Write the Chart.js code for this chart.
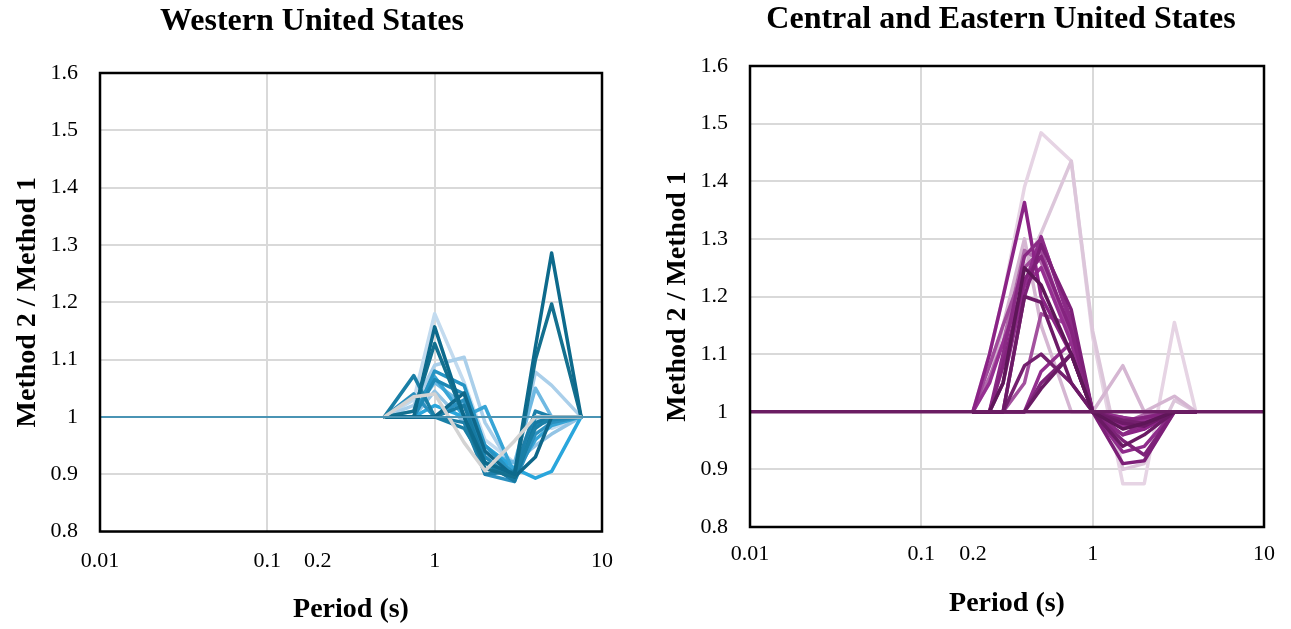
<!DOCTYPE html>
<html>
<head>
<meta charset="utf-8">
<title>Method 2 / Method 1 ratio</title>
<script src="https://cdn.jsdelivr.net/npm/chart.js@4.4.1/dist/chart.umd.min.js"></script>
<style>
    html, body {
        margin: 0;
        padding: 0;
        background: #ffffff;
        width: 1291px;
        height: 629px;
        overflow: hidden;
    }
    .panel {
        position: absolute;
        top: 0;
    }
    #wusPanel { left: 0; }
    #ceusPanel { left: 640px; }
</style>
</head>
<body>
<div class="panel" id="wusPanel"><canvas id="wusChart" width="624" height="629"></canvas></div>
<div class="panel" id="ceusPanel"><canvas id="ceusChart" width="722" height="629"></canvas></div>

<script>
(function() {
    'use strict';

    // Axis ticks
    const PERIOD_TICKS = [0.01, 0.1, 0.2, 1, 10];
    const RATIO_TICKS = [0.8, 0.9, 1, 1.1, 1.2, 1.3, 1.4, 1.5, 1.6];

    // Reference line at ratio 1
    const BASE_PERIODS = [0.01, 10];
    const BASE_RATIO = [1, 1];

    // Western United States: ratios at these periods (s)
    const WUS_PERIODS = [0.5, 0.75, 1, 1.5, 2, 3, 4, 5, 7.5];
    const wus01 = [1, 1.035, 1.040, 0.955, 0.906, 0.958, 1.000, 1.000, 1];
    const wus02 = [1, 1.000, 1.157, 1.000, 0.920, 0.900, 1.122, 1.286, 1];
    const wus03 = [1, 1.010, 1.128, 1.000, 0.910, 0.895, 1.100, 1.197, 1];
    const wus04 = [1, 1.000, 1.000, 1.042, 0.940, 0.895, 0.930, 1.000, 1];
    const wus05 = [1, 1.072, 1.000, 0.980, 0.920, 0.900, 0.980, 1.000, 1];
    const wus06 = [1, 1.000, 1.000, 1.020, 0.920, 0.888, 0.990, 1.000, 1];
    const wus07 = [1, 1.000, 1.000, 0.990, 0.900, 0.905, 1.010, 1.000, 1];
    const wus08 = [1, 1.000, 1.065, 1.040, 0.930, 0.890, 0.985, 0.995, 1];
    const wus09 = [1, 1.040, 1.000, 1.030, 0.900, 0.887, 0.970, 0.990, 1];
    const wus10 = [1, 1.000, 1.080, 1.055, 0.950, 0.900, 1.000, 1.000, 1];
    const wus11 = [1, 1.000, 1.070, 1.000, 1.018, 0.900, 0.960, 0.985, 1];
    const wus12 = [1, 1.000, 1.020, 1.000, 0.950, 0.910, 0.893, 0.905, 1];
    const wus13 = [1, 1.010, 1.060, 1.020, 0.940, 0.920, 1.050, 1.000, 1];
    const wus14 = [1, 1.000, 1.045, 0.990, 0.930, 0.920, 0.950, 0.970, 1];
    const wus15 = [1, 1.020, 1.090, 1.104, 0.990, 0.905, 1.078, 1.055, 1];
    const wus16 = [1, 1.030, 1.180, 1.060, 0.960, 0.920, 1.000, 0.980, 1];
    const WUS_SERIES = [wus01, wus02, wus03, wus04, wus05, wus06, wus07, wus08,
                        wus09, wus10, wus11, wus12, wus13, wus14, wus15, wus16];
    const WUS_COLORS = ['#d3d3d3', '#0d6a8c', '#14708f', '#0f6789', '#1a7fa6', '#177aa2',
                        '#1c7fa9', '#1e88b5', '#2b90bf', '#2694c4', '#38a5d6', '#2aa6dc',
                        '#6fb9e2', '#93c4e5', '#aacfea', '#c3dbef'];

    // Central and Eastern United States: ratios at these periods (s)
    const CEUS_PERIODS = [0.2, 0.25, 0.3, 0.4, 0.5, 0.75, 1, 1.5, 2, 3, 4];
    const ceus01 = [1, 1.00, 1.05, 1.25, 1.22, 1.10, 1, 0.970, 0.980, 1, 1];
    const ceus02 = [1, 1.00, 1.00, 1.20, 1.19, 1.05, 1, 0.980, 0.975, 1, 1];
    const ceus03 = [1, 1.00, 1.00, 1.00, 1.04, 1.10, 1, 0.940, 0.960, 1, 1];
    const ceus04 = [1, 1.00, 1.00, 1.08, 1.10, 1.05, 1, 0.985, 0.980, 1, 1];
    const ceus05 = [1, 1.00, 1.00, 1.20, 1.29, 1.177, 1, 0.910, 0.915, 1, 1];
    const ceus06 = [1, 1.00, 1.00, 1.00, 1.05, 1.10, 1, 0.950, 0.925, 1, 1];
    const ceus07 = [1, 1.00, 1.08, 1.23, 1.27, 1.14, 1, 0.985, 0.990, 1, 1];
    const ceus08 = [1, 1.00, 1.10, 1.27, 1.30, 1.16, 1, 0.960, 0.980, 1, 1];
    const ceus09 = [1, 1.10, 1.20, 1.363, 1.20, 1.10, 1, 0.960, 0.970, 1, 1];
    const ceus10 = [1, 1.00, 1.05, 1.22, 1.304, 1.15, 1, 0.930, 0.940, 1, 1];
    const ceus11 = [1, 1.00, 1.00, 1.00, 1.07, 1.12, 1, 0.990, 0.985, 1, 1];
    const ceus12 = [1, 1.05, 1.12, 1.22, 1.25, 1.12, 1, 0.975, 0.970, 1, 1];
    const ceus13 = [1, 1.08, 1.15, 1.25, 1.28, 1.13, 1, 0.975, 0.990, 1, 1];
    const ceus14 = [1, 1.00, 1.00, 1.05, 1.17, 1.15, 1, 0.990, 0.980, 1, 1];
    const ceus15 = [1, 1.06, 1.12, 1.28, 1.26, 1.13, 1, 0.980, 0.995, 1, 1];
    const ceus16 = [1, 1.05, 1.15, 1.30, 1.15, 1.00, 1, 1.080, 1.000, 1.027, 1];
    const ceus17 = [1, 1.00, 1.08, 1.25, 1.31, 1.435, 1.14, 0.900, 0.910, 1.020, 1];
    const ceus18 = [1, 1.10, 1.20, 1.39, 1.484, 1.435, 1.13, 0.875, 0.875, 1.155, 1];
    const CEUS_SERIES = [ceus01, ceus02, ceus03, ceus04, ceus05, ceus06, ceus07, ceus08, ceus09,
                         ceus10, ceus11, ceus12, ceus13, ceus14, ceus15, ceus16, ceus17, ceus18];
    const CEUS_COLORS = ['#5e1658', '#6d1a67', '#6a1a64', '#74206e', '#7d1f78', '#7e2379',
                         '#85237f', '#8a2a85', '#8b2386', '#8f2c8b', '#922e8d', '#962f91',
                         '#a04a9b', '#a3519e', '#b06aab', '#d5b6d2', '#dcc6da', '#e6d4e4'];

    const SERIF = "'Liberation Serif', 'Times New Roman', serif";
    const GRID = '#d9d9d9';

    // Black frame round the plot area
    const framePlugin = {
        id: 'frame',
        afterDraw(chart) {
            const a = chart.chartArea;
            const ctx = chart.ctx;
            ctx.save();
            ctx.strokeStyle = '#000000';
            ctx.lineWidth = 2.5;
            ctx.strokeRect(a.left, a.top, a.right - a.left, a.bottom - a.top);
            ctx.restore();
        }
    };

    function toPoints(periods, values) {
        return periods.map((p, i) => ({ x: p, y: values[i] }));
    }

    function buildChart(canvasId, opts) {
        const datasets = [{
            data: toPoints(BASE_PERIODS, BASE_RATIO),
            borderColor: opts.baseColor,
            borderWidth: opts.baseWidth
        }].concat(opts.series.map((values, i) => ({
            data: toPoints(opts.periods, values),
            borderColor: opts.colors[i],
            borderWidth: 3.5
        })));

        return new Chart(document.getElementById(canvasId), {
            type: 'line',
            data: { datasets: datasets },
            plugins: [framePlugin],
            options: {
                responsive: false,
                animation: false,
                devicePixelRatio: 1,
                layout: { padding: 0 },
                elements: {
                    point: { radius: 0, hoverRadius: 0 },
                    line: { tension: 0, fill: false, borderJoinStyle: 'round', borderCapStyle: 'round' }
                },
                plugins: {
                    legend: { display: false },
                    tooltip: { enabled: false },
                    title: {
                        display: true,
                        text: opts.title,
                        color: '#000000',
                        font: { family: SERIF, size: 32, weight: 'bold', lineHeight: 1.2 },
                        padding: opts.titlePadding
                    }
                },
                scales: {
                    x: {
                        type: 'logarithmic',
                        min: 0.01,
                        max: 10,
                        afterBuildTicks: function(scale) {
                            scale.ticks = PERIOD_TICKS.map(v => ({ value: v }));
                        },
                        afterFit: function(scale) {
                            scale.height = opts.xHeight;
                            scale.paddingLeft = 0;
                            scale.paddingRight = 0;
                        },
                        grid: {
                            drawTicks: false,
                            lineWidth: 2,
                            color: function(c) {
                                return c.tick && c.tick.value === 0.2 ? 'rgba(0,0,0,0)' : GRID;
                            }
                        },
                        border: { display: false },
                        ticks: {
                            color: '#000000',
                            padding: opts.xTickPadding,
                            maxRotation: 0,
                            autoSkip: false,
                            font: { family: SERIF, size: 22 },
                            callback: function(value) {
                                return String(value);
                            }
                        },
                        title: {
                            display: true,
                            text: 'Period (s)',
                            color: '#000000',
                            font: { family: SERIF, size: 28, weight: 'bold', lineHeight: 1.2 },
                            padding: { top: 0, bottom: opts.xTitlePadding }
                        }
                    },
                    y: {
                        min: 0.8,
                        max: 1.6,
                        afterBuildTicks: function(scale) {
                            scale.ticks = RATIO_TICKS.map(v => ({ value: v }));
                        },
                        afterFit: function(scale) {
                            scale.width = opts.yWidth;
                        },
                        grid: { drawTicks: false, lineWidth: 2, color: GRID },
                        border: { display: false },
                        ticks: {
                            color: '#000000',
                            padding: 22,
                            font: { family: SERIF, size: 22 },
                            callback: function(value) {
                                return String(value);
                            }
                        },
                        title: {
                            display: true,
                            text: 'Method 2 / Method 1',
                            color: '#000000',
                            font: { family: SERIF, size: 28, weight: 'bold', lineHeight: 1.2 },
                            padding: { top: opts.yTitlePadding, bottom: 0 }
                        }
                    },
                    spacer: {
                        position: 'right',
                        display: true,
                        grid: { display: false },
                        border: { display: false },
                        ticks: { display: false },
                        afterFit: function(scale) {
                            scale.width = opts.rightSpace;
                        }
                    }
                }
            }
        });
    }

    buildChart('wusChart', {
        title: 'Western United States',
        titlePadding: { top: 3, bottom: 31.6 },
        periods: WUS_PERIODS,
        series: WUS_SERIES,
        colors: WUS_COLORS,
        baseColor: '#4a94b4',
        baseWidth: 2,
        xHeight: 97.5,
        xTickPadding: 17,
        xTitlePadding: 2,
        yWidth: 100,
        yTitlePadding: 11,
        rightSpace: 22
    });

    buildChart('ceusChart', {
        title: 'Central and Eastern United States',
        titlePadding: { top: 1, bottom: 26.6 },
        periods: CEUS_PERIODS,
        series: CEUS_SERIES,
        colors: CEUS_COLORS,
        baseColor: '#6b1d63',
        baseWidth: 3.5,
        xHeight: 102,
        xTickPadding: 14,
        xTitlePadding: 8,
        yWidth: 110,
        yTitlePadding: 21,
        rightSpace: 98
    });

})();
</script>
</body>
</html>
